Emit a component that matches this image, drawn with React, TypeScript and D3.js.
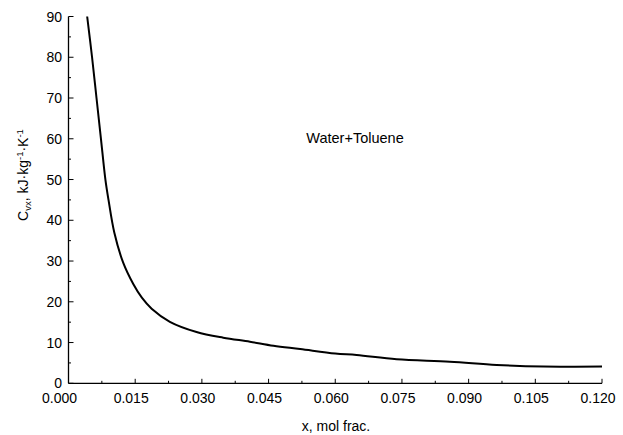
import React from "react";
import * as d3 from "d3";

const xValues = [0.0042, 0.0053, 0.0063, 0.0073, 0.0083, 0.009, 0.0103, 0.0123, 0.0146, 0.0165, 0.0187, 0.0228, 0.0288, 0.0348, 0.0408, 0.0461, 0.0521, 0.06, 0.0648, 0.0738, 0.0858, 0.0963, 0.1068, 0.12];
const yValues = [90, 80, 70, 60, 50, 45, 37, 29.6, 24.3, 21.0, 18.3, 15.1, 12.6, 11.2, 10.2, 9.2, 8.4, 7.3, 6.95, 5.9, 5.3, 4.5, 4.1, 4.1];
const xTicks = [0, 0.015, 0.03, 0.045, 0.06, 0.075, 0.09, 0.105, 0.12];
const yTicks = [0, 10, 20, 30, 40, 50, 60, 70, 80, 90];
const annotation = "Water+Toluene";

const W = 623;
const H = 435;
const FONT = "'Liberation Sans', Arial, sans-serif";

export default function App() {
  const x = d3.scaleLinear().domain([0, 0.12]).range([68.5, 602]);
  const y = d3.scaleLinear().domain([0, 90]).range([383.3, 16.5]);
  const pts: [number, number][] = xValues.map((v, i) => [v, yValues[i]]);
  const line = d3
    .line<[number, number]>()
    .x((d) => x(d[0]))
    .y((d) => y(d[1]))
    .curve(d3.curveCatmullRom.alpha(0.5));
  const xMinor = xTicks.slice(0, -1).map((t, i) => (t + xTicks[i + 1]) / 2);
  const yMinor = yTicks.slice(0, -1).map((t, i) => (t + yTicks[i + 1]) / 2);
  const x0 = x(0);
  const y0 = y(0);
  const fs = 14;
  return (
    <svg width={W} height={H} style={{ position: "absolute", left: 0, top: 0, background: "#fff" }} fontFamily={FONT}>
      <rect x={0} y={0} width={W} height={H} fill="#fff" />
      <line x1={x0} y1={y(90)} x2={x0} y2={y0} stroke="#000" strokeWidth={1.3} />
      <line x1={x0} y1={y0} x2={x(0.12)} y2={y0} stroke="#000" strokeWidth={1.3} />
      {xTicks.map((t, i) => (
        <g key={"xt" + t}>
          <line x1={x(t)} x2={x(t)} y1={y0} y2={y0 - 4.5} stroke="#000" strokeWidth={1} />
          <text x={x(t)} dx={i === 0 ? -9 : -4} y={403} fontSize={fs} textAnchor="middle" fill="#000">
            {t.toFixed(3)}
          </text>
        </g>
      ))}
      {xMinor.map((t) => (
        <line key={"xm" + t} x1={x(t)} x2={x(t)} y1={y0} y2={y0 - 2.5} stroke="#000" strokeWidth={1} />
      ))}
      {yTicks.map((t) => (
        <g key={"yt" + t}>
          <line x1={x0} x2={x0 + 5} y1={y(t)} y2={y(t)} stroke="#000" strokeWidth={1} />
          <text x={62} y={y(t) + 5} fontSize={fs} textAnchor="end" fill="#000">
            {t}
          </text>
        </g>
      ))}
      {yMinor.map((t) => (
        <line key={"ym" + t} x1={x0} x2={x0 + 2.5} y1={y(t)} y2={y(t)} stroke="#000" strokeWidth={1} />
      ))}
      <path d={line(pts) || ""} fill="none" stroke="#000" strokeWidth={2} strokeLinejoin="round" />
      <text x={355} y={143} fontSize={14.5} textAnchor="middle" fill="#000">
        {annotation}
      </text>
      <text x={336} y={431} fontSize={fs} textAnchor="middle" fill="#000">
        x, mol frac.
      </text>
      <text transform="translate(28,175) rotate(-90)" fontSize={fs} textAnchor="middle" fill="#000">
        C<tspan fontSize={9.5} dy={3}>vx</tspan>
        <tspan dy={-3}>, kJ·kg</tspan>
        <tspan fontSize={9.5} dy={-5.5}>-1</tspan>
        <tspan dy={5.5}>·K</tspan>
        <tspan fontSize={9.5} dy={-5.5}>-1</tspan>
      </text>
    </svg>
  );
}
